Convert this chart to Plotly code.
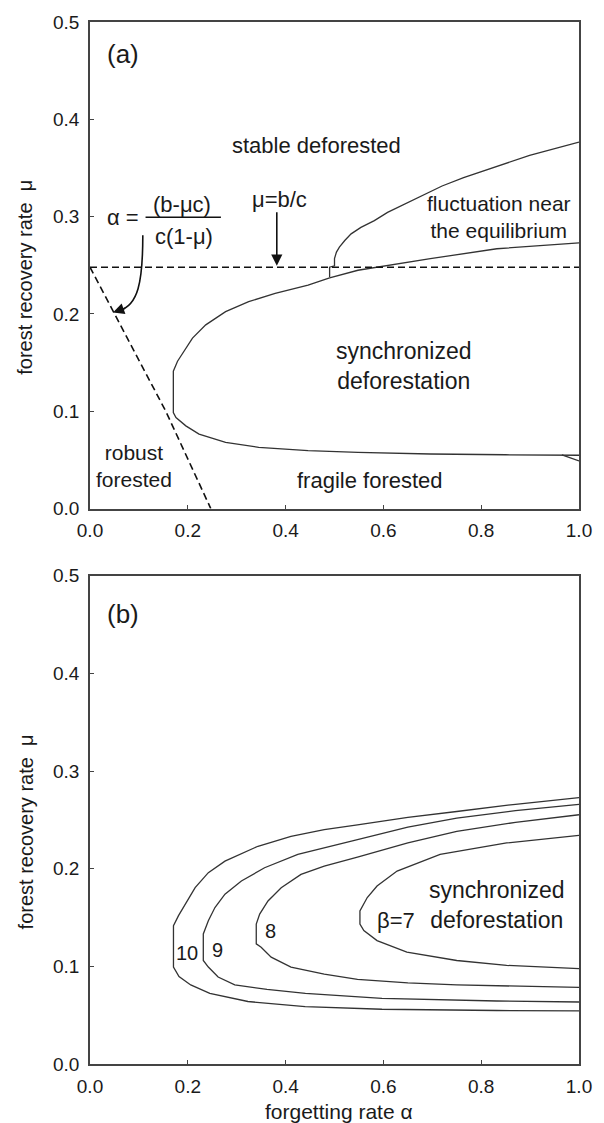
import plotly.graph_objects as go

# ---------------- data ----------------
xtick_vals = [0.0, 0.2, 0.4, 0.6, 0.8, 1.0]
ytick_vals = [0.0, 0.1, 0.2, 0.3, 0.4, 0.5]

# panel (a): boundary of synchronized deforestation (upper branch -> nose -> lower branch)
a_sync_alpha = [1.0, 0.832, 0.696, 0.595, 0.548, 0.490, 0.446, 0.3787, 0.3245, 0.2773, 0.2367,
                0.2096, 0.1927, 0.179, 0.1704, 0.1704, 0.1758, 0.196, 0.223, 0.2773, 0.345,
                0.446, 0.548, 0.696, 0.85, 0.97, 1.0]
a_sync_mu = [0.273, 0.267, 0.2568, 0.2483, 0.2449, 0.2370, 0.2296, 0.2211, 0.2126, 0.2024, 0.1888,
             0.1752, 0.1616, 0.1514, 0.1412, 0.0986, 0.0936, 0.085, 0.0765, 0.068, 0.063,
             0.0595, 0.0578, 0.0561, 0.0553, 0.0551, 0.0548]
a_fork_alpha = [0.965, 1.0]
a_fork_mu = [0.0552, 0.049]

# panel (a): boundary of fluctuation near the equilibrium
a_fluct_alpha = [0.490, 0.490, 0.500, 0.500, 0.504, 0.510, 0.521, 0.534, 0.554, 0.5815, 0.6085,
                 0.6355, 0.68, 0.72, 0.764, 0.83, 0.899, 1.0]
a_fluct_mu = [0.238, 0.248, 0.2495, 0.257, 0.2636, 0.2687, 0.2755, 0.2823, 0.289, 0.2959, 0.3044,
              0.311, 0.3225, 0.3315, 0.340, 0.3515, 0.363, 0.3765]

# panel (a): dashed lines mu = b/c and alpha = (b - mu c)/(c(1-mu))
a_bc_alpha = [0.0, 1.0]
a_bc_mu = [0.248, 0.248]
a_diag_alpha = [0.0, 0.051, 0.155, 0.247]
a_diag_mu = [0.248, 0.199, 0.1, 0.0]

# panel (b): boundaries for beta = 10, 9, 8, 7
b10_alpha = [1.0, 0.87, 0.75, 0.65, 0.547, 0.479, 0.411, 0.3435, 0.276, 0.242, 0.215, 0.1945,
             0.181, 0.1707, 0.1707, 0.182, 0.206, 0.245, 0.323, 0.44, 0.597, 0.832, 1.0]
b10_mu = [0.2729, 0.266, 0.2586, 0.2525, 0.245, 0.240, 0.2332, 0.223, 0.2078, 0.196, 0.1806, 0.1637,
          0.152, 0.1417, 0.0993, 0.0895, 0.081, 0.0724, 0.064, 0.0588, 0.0561, 0.0548, 0.0545]

b9_alpha = [1.0, 0.87, 0.75, 0.65, 0.547, 0.4925, 0.425, 0.357, 0.3096, 0.276, 0.2555, 0.242,
            0.2317, 0.2317, 0.242, 0.262, 0.296, 0.362, 0.4405, 0.597, 0.832, 1.0]
b9_mu = [0.266, 0.2595, 0.2518, 0.2425, 0.2298, 0.223, 0.2146, 0.201, 0.1874, 0.1739, 0.1603, 0.1468,
         0.1332, 0.106, 0.0993, 0.0891, 0.081, 0.0765, 0.0724, 0.0673, 0.0645, 0.0635]

b8_alpha = [1.0, 0.87, 0.75, 0.65, 0.547, 0.479, 0.4315, 0.391, 0.364, 0.347, 0.340, 0.340,
            0.350, 0.3705, 0.411, 0.479, 0.547, 0.65, 0.75, 0.87, 1.0]
b8_mu = [0.2553, 0.2475, 0.2383, 0.2265, 0.212, 0.2027, 0.1942, 0.1806, 0.167, 0.1536, 0.1434, 0.123,
         0.1196, 0.1094, 0.0993, 0.092, 0.0867, 0.083, 0.081, 0.0795, 0.0785]

b7_alpha = [1.0, 0.852, 0.716, 0.628, 0.587, 0.567, 0.552, 0.552, 0.56, 0.587, 0.648, 0.75, 0.852, 1.0]
b7_mu = [0.2342, 0.2264, 0.2146, 0.1976, 0.1823, 0.1705, 0.1567, 0.1434, 0.1366, 0.1264, 0.1145,
         0.106, 0.101, 0.0976]

# ---------------- layout geometry ----------------
W, H = 604, 1123
M_L, M_R, M_T, M_B = 90, 21, 15, 58.7
plot_h = H - M_T - M_B


def dom(py_top, py_bot):
    return [(H - M_B - py_bot) / plot_h, (H - M_B - py_top) / plot_h]


FONT = "Liberation Sans, Arial, Helvetica, sans-serif"
LINE_C = "#333333"
TXT_C = "#1a1a1a"

fig = go.Figure()


def add_line(x, y, xa, ya, dash=None, width=1.3, color=LINE_C):
    fig.add_trace(go.Scatter(x=x, y=y, xaxis=xa, yaxis=ya, mode="lines",
                             line=dict(color=color, width=width, dash=dash),
                             showlegend=False, hoverinfo="skip"))


# panel (a)
add_line(a_sync_alpha, a_sync_mu, "x", "y")
add_line(a_fork_alpha, a_fork_mu, "x", "y")
add_line(a_fluct_alpha, a_fluct_mu, "x", "y")
add_line(a_bc_alpha, a_bc_mu, "x", "y", dash="7px,4px", width=1.6, color="#111111")
add_line(a_diag_alpha, a_diag_mu, "x", "y", dash="7px,4px", width=1.6, color="#111111")

# panel (b)
for xs, ys in [(b10_alpha, b10_mu), (b9_alpha, b9_mu), (b8_alpha, b8_mu), (b7_alpha, b7_mu)]:
    add_line(xs, ys, "x2", "y2")

axis_common = dict(range=[0, 1], showgrid=False, zeroline=False, showline=True, mirror=True,
                   linecolor="#444444", linewidth=1.5, ticks="inside", ticklen=4,
                   tickcolor="#444444", tickwidth=1.2, tickformat=".1f",
                   tickfont=dict(family=FONT, size=19, color=TXT_C))

fig.update_layout(
    width=W, height=H,
    margin=dict(l=M_L, r=M_R, t=M_T, b=M_B),
    plot_bgcolor="white", paper_bgcolor="white",
    showlegend=False,
    xaxis=dict(**axis_common, tickvals=xtick_vals, anchor="y", domain=[0, 1], ticklabelstandoff=4),
    yaxis=dict(**{**axis_common, "range": [0, 0.5]}, tickvals=ytick_vals, anchor="x",
               domain=dom(15, 505), ticklabelstandoff=5),
    xaxis2=dict(**axis_common, tickvals=xtick_vals, anchor="y2", domain=[0, 1], ticklabelstandoff=4),
    yaxis2=dict(**{**axis_common, "range": [0, 0.5]}, tickvals=ytick_vals, anchor="x2",
                domain=dom(572.7, 1064.3), ticklabelstandoff=5),
)

ann = []


def txt(x, y, s, xref="x", yref="y", size=22, xanchor="center", yanchor="middle", angle=0):
    ann.append(dict(x=x, y=y, xref=xref, yref=yref, text=s, showarrow=False,
                    xanchor=xanchor, yanchor=yanchor, textangle=angle,
                    font=dict(family=FONT, size=size, color=TXT_C)))


# panel (a) texts
txt(0.03, 0.467, "(a)", size=26, xanchor="left")
txt(0.4635, 0.3735, "stable deforested")
txt(0.387, 0.318, "μ=b/c")
txt(0.836, 0.300, "fluctuation near<br>the equilibrium", size=21)
txt(0.643, 0.147, "synchronized<br>deforestation", size=23)
txt(0.0906, 0.0434, "robust<br>forested", size=21)
txt(0.573, 0.029, "fragile forested")
# formula
txt(0.068, 0.2993, "α =", size=22)
txt(0.189, 0.312, "(b-μc)", size=22)
txt(0.193, 0.2796, "c(1-μ)", size=22)

# panel (b) texts
txt(0.03, 0.461, "(b)", xref="x2", yref="y2", size=26, xanchor="left")
txt(0.832, 0.163, "synchronized<br>deforestation", xref="x2", yref="y2", size=23)
txt(0.626, 0.1468, "β=7", xref="x2", yref="y2", size=22)
txt(0.369, 0.1366, "8", xref="x2", yref="y2", size=20)
txt(0.26, 0.1163, "9", xref="x2", yref="y2", size=20)
txt(0.198, 0.1132, "10", xref="x2", yref="y2", size=20)

# axis titles
txt(-0.1318, 0.4755, "forest recovery rate\u00a0\u00a0μ", xref="x domain", yref="y domain", size=20, angle=-90)
txt(-0.1318, 0.4755, "forest recovery rate\u00a0\u00a0μ", xref="x2 domain", yref="y2 domain", size=20, angle=-90)
txt(0.51, -0.0964, "forgetting rate α", xref="x2 domain", yref="y2 domain", size=21)

# arrows
ann.append(dict(x=0.382, y=0.2495, ax=0.382, ay=0.306, xref="x", yref="y", axref="x", ayref="y",
                showarrow=True, arrowhead=2, arrowsize=1.4, arrowwidth=1.6, arrowcolor="#111111", text=""))
ann.append(dict(x=0.047, y=0.2015, ax=0.075, ay=0.2065, xref="x", yref="y", axref="x", ayref="y",
                showarrow=True, arrowhead=2, arrowsize=1.4, arrowwidth=1.6, arrowcolor="#111111", text=""))

fig.update_layout(annotations=ann)

# fraction bar and curved arrow shaft (annotation geometry)
fig.add_shape(type="line", x0=0.1136, x1=0.2677, y0=0.2993, y1=0.2993, xref="x", yref="y",
              line=dict(color="#111111", width=1.5))
fig.add_shape(type="path", xref="x", yref="y",
              path="M 0.108,0.281 C 0.108,0.232 0.098,0.209 0.06,0.2035",
              line=dict(color="#111111", width=1.6))

fig.write_html("out.html")
